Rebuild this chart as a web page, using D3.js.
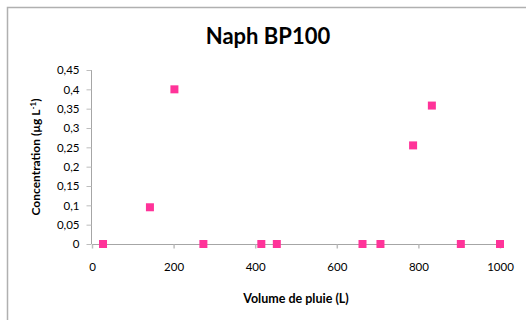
<!DOCTYPE html>
<html><head><meta charset="utf-8">
<script src="https://cdn.jsdelivr.net/npm/d3@7"></script>
<style>body{margin:0;background:#fff}svg{display:block}text{font-family:Lato,"Open Sans",sans-serif}</style>
</head><body>
<script>
const title = "Naph BP100";
const xLabel = "Volume de pluie  (L)";
const volumes = [27, 142, 202, 273, 415, 453, 663, 707, 787, 833, 904, 1000];
const concentrations = [0, 0.095, 0.40, 0, 0, 0, 0, 0, 0.255, 0.358, 0, 0];
const xTicks = [0, 200, 400, 600, 800, 1000];
const yTicks = [0, 0.05, 0.1, 0.15, 0.2, 0.25, 0.3, 0.35, 0.4, 0.45];

const W = 526, H = 320;
const svg = d3.select("body").append("svg").attr("width", W).attr("height", H);
svg.append("rect").attr("x", 7.5).attr("y", 7.5).attr("width", 540).attr("height", 340)
  .attr("fill", "#fff").attr("stroke", "#b0b0b0").attr("stroke-width", 1.5);

const x = d3.scaleLinear().domain([0, 1000]).range([92, 500]);
const y = d3.scaleLinear().domain([0, 0.45]).range([244, 70]);
const fmt = d => d3.format("")(d).replace(".", ",");

// y axis
const ya = svg.append("g").attr("transform", "translate(91.5,0)")
  .call(d3.axisLeft(y).tickValues(yTicks).tickSize(5).tickPadding(7).tickFormat(fmt));
ya.select(".domain").attr("stroke", "#a6a6a6").attr("d", `M0,${y(0.45)}V${y(0)}`);
ya.selectAll(".tick line").attr("stroke", "#bdbdbd");
ya.selectAll("text").attr("font-size", 11.5).attr("fill", "#000");

// x axis
const xa = svg.append("g").attr("transform", `translate(0,${y(0) + 0.5})`)
  .call(d3.axisBottom(x).tickValues(xTicks).tickSize(4).tickPadding(14).tickFormat(d3.format("")));
xa.select(".domain").attr("stroke", "#a6a6a6").attr("d", `M${x(0)},0H${x(1000)}`);
xa.selectAll(".tick line").attr("stroke", "#bdbdbd").attr("stroke-width", 1.5);
xa.selectAll("text").attr("font-size", 11.5).attr("fill", "#000");

// points
const s = 8;
svg.append("g").selectAll("rect").data(volumes).join("rect")
  .attr("x", (d) => x(d) - s / 2).attr("y", (d, i) => y(concentrations[i]) - s / 2)
  .attr("width", s).attr("height", s).attr("fill", "#ff3399");

// title
svg.append("text").attr("x", 268).attr("y", 44).attr("text-anchor", "middle")
  .attr("font-size", 22).attr("font-weight", "bold").text(title);

svg.append("text").attr("x", 296).attr("y", 303).attr("text-anchor", "middle")
  .attr("font-size", 12.5).attr("font-weight", "bold").text(xLabel);

const yl = svg.append("text").attr("transform", "translate(40,157) rotate(-90)")
  .attr("text-anchor", "middle").attr("font-size", 12).attr("font-weight", "bold");
yl.append("tspan").text("Concentration (µg L");
yl.append("tspan").attr("dy", -4).attr("font-size", 8).text("-1");
yl.append("tspan").attr("dy", 4).text(")");
</script>
</body></html>
